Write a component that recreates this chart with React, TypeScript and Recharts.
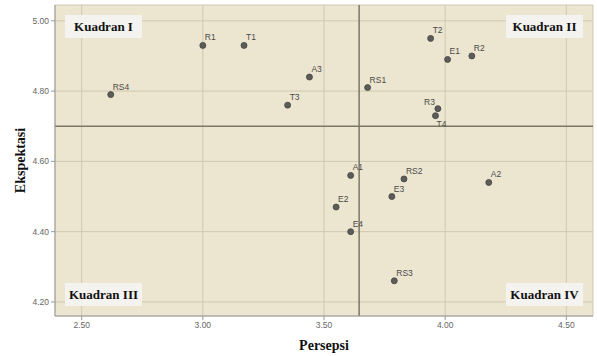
import React from 'react';
import {
  ScatterChart,
  Scatter,
  XAxis,
  YAxis,
  CartesianGrid,
  ReferenceLine,
  LabelList,
  Label,
} from 'recharts';

const names = ['RS4', 'R1', 'T1', 'T3', 'A3', 'RS1', 'T2', 'E1', 'R2', 'R3', 'T4', 'A1', 'RS2', 'A2', 'E3', 'E2', 'E4', 'RS3'];
const persepsi = [2.62, 3.0, 3.17, 3.35, 3.44, 3.68, 3.94, 4.01, 4.11, 3.97, 3.96, 3.61, 3.83, 4.18, 3.78, 3.55, 3.61, 3.79];
const ekspektasi = [4.79, 4.93, 4.93, 4.76, 4.84, 4.81, 4.95, 4.89, 4.9, 4.75, 4.73, 4.56, 4.55, 4.54, 4.5, 4.47, 4.4, 4.26];

const xTicks = [2.5, 3.0, 3.5, 4.0, 4.5];
const yTicks = [4.2, 4.4, 4.6, 4.8, 5.0];
const meanX = 3.645;
const meanY = 4.7;

const quadrants = ['Kuadran I', 'Kuadran II', 'Kuadran III', 'Kuadran IV'];

// labels that sit somewhere other than above-right of the dot
const labelSide: Record<string, 'left' | 'below'> = { R3: 'left', T4: 'below' };

const data = names.map((name, i) => ({ name, x: persepsi[i], y: ekspektasi[i] }));

const W = 597;
const H = 356;

const PointLabel = (props: any) => {
  const { viewBox, value } = props;
  const cx = viewBox.x + viewBox.width / 2;
  const cy = viewBox.y + viewBox.height / 2;
  const side = labelSide[value];
  let tx = cx + 2;
  let ty = cy - 5;
  let anchor: 'start' | 'end' = 'start';
  if (side === 'left') {
    tx = cx - 3;
    ty = cy - 4;
    anchor = 'end';
  } else if (side === 'below') {
    tx = cx + 1;
    ty = cy + 11;
  }
  return (
    <text x={tx} y={ty} textAnchor={anchor} fontSize={8.5} fill="#4a4a4a" fontFamily="Arial, 'Liberation Sans', sans-serif">
      {value}
    </text>
  );
};

const Dot = (props: any) => (
  <circle cx={props.cx} cy={props.cy} r={3} fill="#5e5c58" stroke="#444" strokeWidth={0.8} />
);

const boxStyle: React.CSSProperties = {
  position: 'absolute',
  width: 77,
  height: 23,
  background: '#f4f3ef',
  fontFamily: "'Liberation Serif', 'Times New Roman', serif",
  fontWeight: 'bold',
  fontSize: 13,
  color: '#111',
  display: 'flex',
  alignItems: 'center',
  justifyContent: 'center',
};

const boxPos = [
  { left: 65, top: 15 },
  { left: 506, top: 15 },
  { left: 65, top: 283 },
  { left: 506, top: 283 },
];

export default function App() {
  return (
    <div style={{ position: 'absolute', left: 0, top: 0, width: W, height: H, background: '#fff' }}>
      <ScatterChart width={W} height={H} margin={{ top: 5, right: 4, left: 0, bottom: 10 }}>
        <CartesianGrid fill="#ece5cf" stroke="#cfc8b2" />
        <XAxis
          type="number"
          dataKey="x"
          domain={[2.39, 4.61]}
          ticks={xTicks}
          allowDataOverflow
          height={30}
          tickFormatter={(v: number) => v.toFixed(2)}
          tick={{ fontSize: 8.5, fill: '#666', fontFamily: 'Arial, sans-serif' }}
          tickSize={4}
          stroke="#999"
        >
          <Label
            value="Persepsi"
            position="insideBottom"
            offset={-4}
            style={{ fontFamily: "'Liberation Serif', serif", fontWeight: 'bold', fontSize: 14, fill: '#111' }}
          />
        </XAxis>
        <YAxis
          type="number"
          dataKey="y"
          domain={[4.16, 5.045]}
          ticks={yTicks}
          allowDataOverflow
          width={55}
          tickFormatter={(v: number) => v.toFixed(2)}
          tick={{ fontSize: 8.5, fill: '#666', fontFamily: 'Arial, sans-serif' }}
          tickSize={4}
          stroke="#999"
        >
          <Label
            value="Ekspektasi"
            angle={-90}
            position="insideLeft"
            offset={20}
            style={{ fontFamily: "'Liberation Serif', serif", fontWeight: 'bold', fontSize: 14, fill: '#111', textAnchor: 'middle' }}
          />
        </YAxis>
        <ReferenceLine x={meanX} stroke="#7d7766" strokeWidth={1.5} />
        <ReferenceLine y={meanY} stroke="#7d7766" strokeWidth={1.5} />
        <Scatter data={data} shape={<Dot />} isAnimationActive={false}>
          <LabelList dataKey="name" content={<PointLabel />} />
        </Scatter>
      </ScatterChart>
      {quadrants.map((q, i) => (
        <div key={q} style={{ ...boxStyle, ...boxPos[i] }}>
          {q}
        </div>
      ))}
    </div>
  );
}
